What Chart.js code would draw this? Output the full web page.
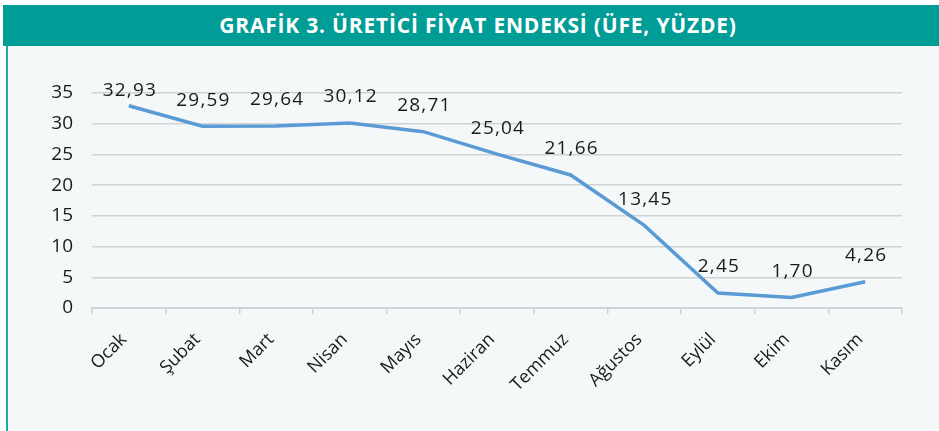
<!DOCTYPE html>
<html>
<head>
<meta charset="utf-8">
<script src="https://cdn.jsdelivr.net/npm/chart.js@4"></script>
<style>
  html, body { margin: 0; padding: 0; background: #ffffff; }
  #wrap { position: relative; width: 939px; height: 431px; overflow: hidden; }
  #panel { position: absolute; left: 6px; top: 5px; width: 933px; height: 426px; background: #f4f8f9; border-left: 2px solid #1aaba5; box-sizing: border-box; }
  #title { position: absolute; left: 3px; top: 5px; width: 936px; height: 41px; background: #009c96; color: #ffffff;
           font-family: "Open Sans", sans-serif; font-weight: 700; font-size: 21px; letter-spacing: 0.8px;
           text-align: center; line-height: 41px; text-indent: 14px; }
  #box { position: absolute; left: 0; top: 46px; width: 939px; height: 385px; }
</style>
</head>
<body>
<div id="wrap">
  <div id="panel"></div>
  <div id="title">GRAFİK 3. ÜRETİCİ FİYAT ENDEKSİ (ÜFE, YÜZDE)</div>
  <div id="box"><canvas id="ufeChart"></canvas></div>
</div>
<script>
const months = ['Ocak', 'Şubat', 'Mart', 'Nisan', 'Mayıs', 'Haziran', 'Temmuz', 'Ağustos', 'Eylül', 'Ekim', 'Kasım'];
const ufeValues = [32.93, 29.59, 29.64, 30.12, 28.71, 25.04, 21.66, 13.45, 2.45, 1.70, 4.26];
const yTicks = [0, 5, 10, 15, 20, 25, 30, 35];

// values above each point, Turkish decimal comma
const valueLabels = {
    id: 'valueLabels',
    afterDatasetsDraw(chart) {
        const ctx = chart.ctx;
        const meta = chart.getDatasetMeta(0);
        ctx.save();
        ctx.font = '19px "Open Sans"';
        ctx.letterSpacing = '1.2px';
        ctx.fillStyle = '#1a1a1a';
        ctx.textAlign = 'center';
        ctx.textBaseline = 'middle';
        meta.data.forEach((pt, i) => {
            const txt = ufeValues[i].toFixed(2).replace('.', ',');
            // keep the label inside the plot, like excel does
            const y = Math.max(pt.y - 26, chart.chartArea.top - 2);
            ctx.fillText(txt, pt.x + 1, y);
        });
        ctx.restore();
    }
};

Chart.defaults.font.family = '"Open Sans", sans-serif';
Chart.defaults.font.size = 18;
Chart.defaults.color = '#1a1a1a';

new Chart(document.getElementById('ufeChart'), {
    type: 'line',
    data: {
        labels: months,
        datasets: [{
            data: ufeValues,
            borderColor: '#5b9bd5',
            borderWidth: 3.5,
            pointRadius: 0,
            tension: 0,
            fill: false
        }]
    },
    plugins: [valueLabels],
    options: {
        responsive: true,
        maintainAspectRatio: false,
        animation: false,
        layout: {
            padding: { left: 0, right: 37, top: 47, bottom: 0 }
        },
        plugins: {
            legend: { display: false },
            tooltip: { enabled: false }
        },
        scales: {
            x: {
                offset: true,
                grid: {
                    offset: true,
                    drawOnChartArea: false,
                    drawTicks: true,
                    tickLength: 6,
                    color: '#d0d3d5',
                    lineWidth: 1.5
                },
                border: { display: true, color: '#d0d3d5', width: 2 },
                ticks: {
                    minRotation: 45,
                    maxRotation: 45,
                    padding: 15,
                    labelOffset: -5,
                    autoSkip: false,
                    font: { size: 18 }
                },
                afterFit(scale) { scale.height = 123; }
            },
            y: {
                min: 0,
                max: 35,
                afterBuildTicks(scale) { scale.ticks = yTicks.map(v => ({ value: v })); },
                grid: {
                    drawTicks: false,
                    color: '#d0d3d5',
                    lineWidth: 1.5
                },
                border: { display: false },
                ticks: {
                    padding: 19,
                    font: { size: 19 }
                },
                afterFit(scale) { scale.width = 92; }
            }
        }
    }
});
</script>
</body>
</html>
